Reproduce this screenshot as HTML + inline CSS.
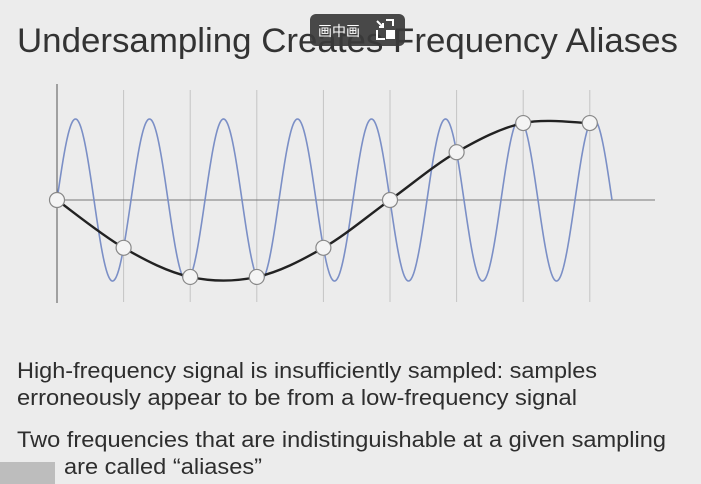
<!DOCTYPE html>
<html><head><meta charset="utf-8"><style>
html,body{margin:0;padding:0;background:#ececec;}
svg{display:block;}
</style></head><body>
<svg id="chart" width="701" height="484" viewBox="0 0 701 484" xmlns="http://www.w3.org/2000/svg">
<rect width="701" height="484" fill="#ececec"/>
<text x="17" y="52" font-family="Liberation Sans, sans-serif" font-size="34" fill="#333" textLength="661" lengthAdjust="spacingAndGlyphs">Undersampling Creates Frequency Aliases</text>
<g id="plot"></g>
<g font-family="Liberation Sans, sans-serif" font-size="22" fill="#2e2e2e">
<text x="17" y="378" textLength="580" lengthAdjust="spacingAndGlyphs">High-frequency signal is insufficiently sampled: samples</text>
<text x="17" y="405" textLength="560" lengthAdjust="spacingAndGlyphs">erroneously appear to be from a low-frequency signal</text>
<text x="17" y="447" textLength="649" lengthAdjust="spacingAndGlyphs">Two frequencies that are indistinguishable at a given sampling</text>
<text x="64" y="474" textLength="198" lengthAdjust="spacingAndGlyphs">are called “aliases”</text>
</g>
<rect x="0" y="462" width="55" height="22" fill="#bdbdbd"/>
<g>
<rect x="310" y="14" width="95" height="32" rx="6" fill="#3a3a3a" fill-opacity="0.92"/>
<text x="318" y="36" font-family="Noto Sans CJK SC, sans-serif" font-size="14" fill="#ffffff">画中画</text>
<path d="M377 21 L383 27 M383 23 L383 27 L379 27 M386 20 L393 20 L393 26 M377 30 L377 39 L385 39" stroke="#fff" stroke-width="2" fill="none"/>
<rect x="386" y="30" width="9" height="9" fill="#fff"/>
</g>
</svg>
<script>
// sample values (normalized) of the low-frequency alias at each sample
const sampleIndex = [0,1,2,3,4,5,6,7,8];
const sampleValues = [0,-0.59,-0.95,-0.95,-0.59,0,0.59,0.95,0.95];
// high-frequency signal: cycles per sample interval
const highFreqCycles = [0.9];
const signalSpanSamples = [8.333];

const NS = 'http://www.w3.org/2000/svg';
const plot = document.getElementById('plot');
const x0 = 57, dx = 66.6, y0 = 200, amp = 81;
const xs = k => x0 + k * dx;
const ys = v => y0 - v * amp;
function mk(tag, attrs){ const e = document.createElementNS(NS, tag); for (const k in attrs) e.setAttribute(k, attrs[k]); plot.appendChild(e); return e; }

sampleIndex.forEach(k => {
  if (k === 0) return;
  const l = mk('line', {x1: xs(k), x2: xs(k), y1: 90, y2: 302, stroke: '#c4c4c4', 'stroke-width': 1});
  
  
});
const ya = mk('line', {x1: x0, x2: x0, y1: 84, y2: 303, stroke: '#555', 'stroke-width': 1});


const xa = mk('line', {x1: x0, x2: 655, y1: y0, y2: y0, stroke: '#777', 'stroke-width': 1});



let d = '';
const f = highFreqCycles[0], span = signalSpanSamples[0];
for (let i = 0; i <= 800; i++) {
  const t = span * i / 800;
  d += (i ? 'L' : 'M') + xs(t).toFixed(2) + ' ' + ys(Math.sin(2 * Math.PI * f * t)).toFixed(2);
}
const blue = mk('path', {d, fill: 'none', stroke: '#7b8fc6', 'stroke-width': 1.6});



const pts = sampleIndex.map((k, i) => [xs(k), ys(sampleValues[i])]);
let dp = 'M' + pts[0][0] + ' ' + pts[0][1];
for (let i = 0; i < pts.length - 1; i++) {
  const p0 = pts[Math.max(0, i - 1)], p1 = pts[i], p2 = pts[i + 1], p3 = pts[Math.min(pts.length - 1, i + 2)];
  const c1 = [p1[0] + (p2[0] - p0[0]) / 6, p1[1] + (p2[1] - p0[1]) / 6];
  const c2 = [p2[0] - (p3[0] - p1[0]) / 6, p2[1] - (p3[1] - p1[1]) / 6];
  dp += ` C${c1[0]} ${c1[1]} ${c2[0]} ${c2[1]} ${p2[0]} ${p2[1]}`;
}
const alias = mk('path', {d: dp, fill: 'none', stroke: '#222', 'stroke-width': 2.4});



pts.forEach(p => {
  const c = mk('circle', {cx: p[0], cy: p[1], r: 7.5, fill: '#f4f4f4', stroke: '#888', 'stroke-width': 1.2});
  
  
});
</script>
</body></html>
